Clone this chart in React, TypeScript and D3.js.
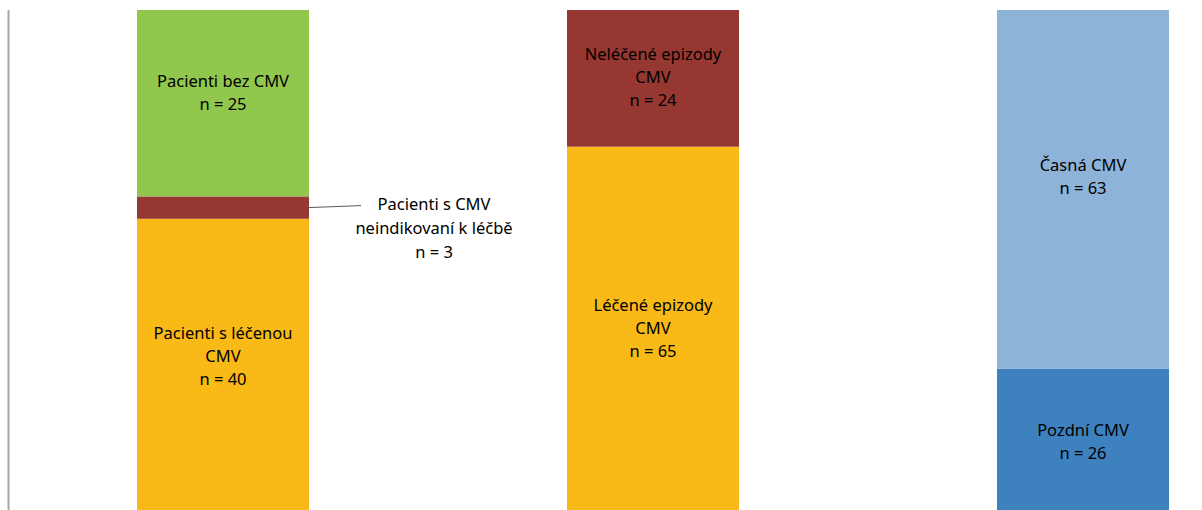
import * as d3 from "d3";

// categories (one stacked column each)
const columns = ["pacienti", "epizody", "nastup"];

// segments, bottom to top in each column
const segNames = [
  ["Pacienti s léčenou CMV", "Pacienti s CMV neindikovaní k léčbě", "Pacienti bez CMV"],
  ["Léčené epizody CMV", "Neléčené epizody CMV"],
  ["Pozdní CMV", "Časná CMV"],
];
const segValues = [
  [40, 3, 25],
  [65, 24],
  [26, 63],
];
const segColors = [
  ["#f9b916", "#973732", "#91c74d"],
  ["#f9b916", "#973732"],
  ["#3d82bf", "#8eb3d8"],
];
// label lines inside the segment (empty = label is drawn outside)
const segLabels = [
  [["Pacienti s léčenou", "CMV"], [], ["Pacienti bez CMV"]],
  [["Léčené epizody", "CMV"], ["Neléčené epizody", "CMV"]],
  [["Pozdní CMV"], ["Časná CMV"]],
];
const calloutLines = ["Pacienti s CMV", "neindikovaní k léčbě"];

export default function App() {
  const width = 1202;
  const height = 510;
  const top = 10;
  const bottom = 517; // plot runs a bit past the bottom edge

  const x = d3.scaleBand().domain(columns).range([8, 1298]).paddingInner(0.6).paddingOuter(0.3);
  const y = d3.scaleLinear().domain([0, 1]).range([bottom, top]);

  const font = "'Noto Sans', sans-serif";
  const fs = 16.5;
  const lh = 23;

  // small vertical nudges of the in-bar labels, like the original placement
  const nudge: Record<string, number> = {
    "Pacienti bez CMV": -9,
    "Pacienti s léčenou CMV": -10,
    "Léčené epizody CMV": -2,
    "Časná CMV": -11,
  };

  return (
    <svg width={width} height={height} style={{ position: "absolute", left: 0, top: 0, background: "#fff" }}>
      {/* axis line */}
      <line x1={8.5} x2={8.5} y1={top} y2={height} stroke="#a6a6a6" strokeWidth={2} />

      {columns.map((c, ci) => {
        const total = d3.sum(segValues[ci]);
        let acc = 0;
        const x0 = x(c)!;
        const bw = x.bandwidth();
        return (
          <g key={c}>
            {segValues[ci].map((v, si) => {
              const y0 = y(acc / total);
              acc += v;
              const y1 = y(acc / total);
              const name = segNames[ci][si];
              const cy = (y0 + y1) / 2 + (nudge[name] ?? 0);
              const lines = segLabels[ci][si].length ? [...segLabels[ci][si], `n = ${v}`] : [];
              const start = cy - ((lines.length - 1) * lh) / 2;
              const isCallout = lines.length === 0;
              return (
                <g key={si}>
                  <rect x={x0} y={y1} width={bw} height={y0 - y1} fill={segColors[ci][si]} />
                  {lines.map((t, li) => (
                    <text
                      key={li}
                      x={x0 + bw / 2}
                      y={start + li * lh}
                      textAnchor="middle"
                      dominantBaseline="middle"
                      fontFamily={font}
                      fontSize={fs}
                      fill="#000"
                    >
                      {t}
                    </text>
                  ))}
                  {isCallout && (
                    <g>
                      <line x1={x0 + bw} y1={cy} x2={x0 + bw + 52} y2={cy - 2} stroke="#595959" strokeWidth={1} />
                      {[...calloutLines, `n = ${v}`].map((t, li) => (
                        <text
                          key={li}
                          x={x0 + bw + 125}
                          y={cy - 2 + li * 24}
                          textAnchor="middle"
                          dominantBaseline="middle"
                          fontFamily={font}
                          fontSize={fs}
                          fill="#000"
                        >
                          {t}
                        </text>
                      ))}
                    </g>
                  )}
                </g>
              );
            })}
          </g>
        );
      })}
    </svg>
  );
}
